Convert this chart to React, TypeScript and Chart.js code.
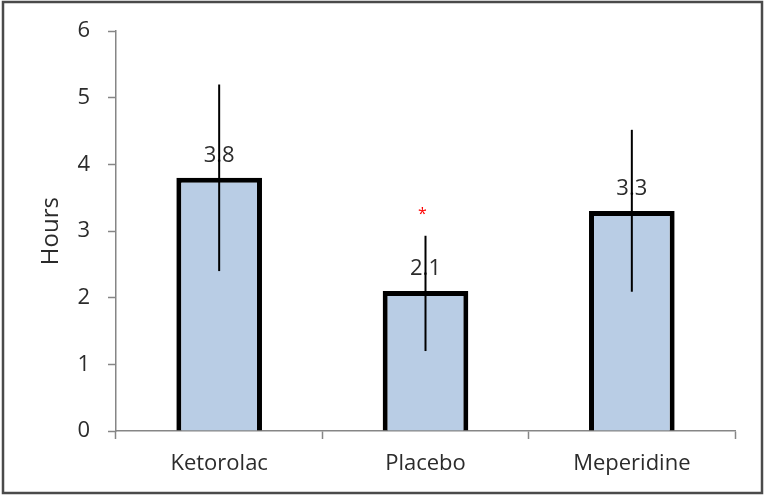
import React, { useEffect, useRef } from "react";
import { Chart, registerables } from "chart.js";

Chart.register(...registerables);

const categories = ["Ketorolac", "Placebo", "Meperidine"];
const meanHours = [3.8, 2.1, 3.3];
const errorUpper = [1.4, 0.83, 1.22];
const errorLower = [1.4, 0.9, 1.21];
const valueLabels = ["3.8", "2.1", "3.3"];
const significanceMarks = ["", "*", ""];
const significanceLevel = [0, 3.29, 0];
const yTicks = [0, 1, 2, 3, 4, 5, 6];

const FONT = "'Open Sans', 'Liberation Sans', sans-serif";
const TEXT = "#2b2b2b";
const AXIS = "#868686";

const overlayPlugin = {
  id: "overlay",
  beforeDraw(chart: any) {
    const ctx = chart.ctx;
    ctx.save();
    ctx.fillStyle = "#ffffff";
    ctx.fillRect(0, 0, chart.width, chart.height);
    ctx.strokeStyle = "#4a4a4a";
    ctx.lineWidth = 2.5;
    ctx.strokeRect(3, 2, chart.width - 6, chart.height - 5);
    ctx.restore();
  },
  afterDatasetsDraw(chart: any) {
    const ctx = chart.ctx;
    const meta = chart.getDatasetMeta(0);
    const yScale = chart.scales.y;
    ctx.save();
    meta.data.forEach((bar: any, i: number) => {
      const x = bar.x;
      const top = bar.y;
      ctx.font = `22px ${FONT}`;
      ctx.fillStyle = TEXT;
      ctx.textAlign = "center";
      ctx.textBaseline = "alphabetic";
      ctx.fillText(valueLabels[i], x, top - 16);
      const yHi = yScale.getPixelForValue(meanHours[i] + errorUpper[i]);
      const yLo = yScale.getPixelForValue(meanHours[i] - errorLower[i]);
      ctx.strokeStyle = "#000000";
      ctx.lineWidth = 2;
      ctx.beginPath();
      ctx.moveTo(x, yHi);
      ctx.lineTo(x, yLo);
      ctx.stroke();
      if (significanceMarks[i]) {
        ctx.fillStyle = "#ff0000";
        ctx.font = `16px ${FONT}`;
        ctx.textBaseline = "middle";
        ctx.fillText(significanceMarks[i], x - 3, yScale.getPixelForValue(significanceLevel[i]) + 3);
      }
    });
    ctx.restore();
  },
};

export default function App() {
  const canvasRef = useRef<HTMLCanvasElement>(null);

  useEffect(() => {
    if (!canvasRef.current) return;
    const chart = new Chart(canvasRef.current, {
      type: "bar",
      data: {
        labels: categories,
        datasets: [
          {
            data: meanHours,
            backgroundColor: "#b9cde5",
            borderColor: "#000000",
            borderWidth: 5,
            barPercentage: 0.415,
            categoryPercentage: 1,
          },
        ],
      },
      options: {
        animation: false,
        responsive: false,
        maintainAspectRatio: false,
        layout: { padding: { left: 0, top: 29, right: 30, bottom: 0 } },
        plugins: {
          legend: { display: false },
          tooltip: { enabled: false },
        },
        scales: {
          x: {
            grid: {
              display: true,
              drawOnChartArea: false,
              drawTicks: true,
              tickLength: 8,
              tickColor: AXIS,
              tickWidth: 1.5,
            },
            border: { color: AXIS, width: 1.5 },
            ticks: { color: TEXT, font: { family: FONT, size: 22 }, padding: 12 },
            afterFit: (scale: any) => {
              scale.height = 65;
            },
          },
          y: {
            min: 0,
            max: 6,
            afterBuildTicks: (scale: any) => {
              scale.ticks = yTicks.map((v) => ({ value: v }));
            },
            grid: {
              display: true,
              drawOnChartArea: false,
              drawTicks: true,
              tickLength: 8,
              tickColor: AXIS,
              tickWidth: 1.5,
            },
            border: { color: AXIS, width: 1.5 },
            ticks: { color: TEXT, font: { family: FONT, size: 22 }, padding: 18 },
            title: {
              display: true,
              text: "Hours",
              color: TEXT,
              font: { family: FONT, size: 24 },
              padding: { top: 37, bottom: 0 },
            },
            afterFit: (scale: any) => {
              scale.width = 116;
            },
          },
        },
      },
      plugins: [overlayPlugin],
    });
    return () => chart.destroy();
  }, []);

  return (
    <div style={{ position: "absolute", left: 0, top: 0, width: 765, height: 496 }}>
      <canvas ref={canvasRef} width={765} height={496} style={{ display: "block" }} />
    </div>
  );
}
